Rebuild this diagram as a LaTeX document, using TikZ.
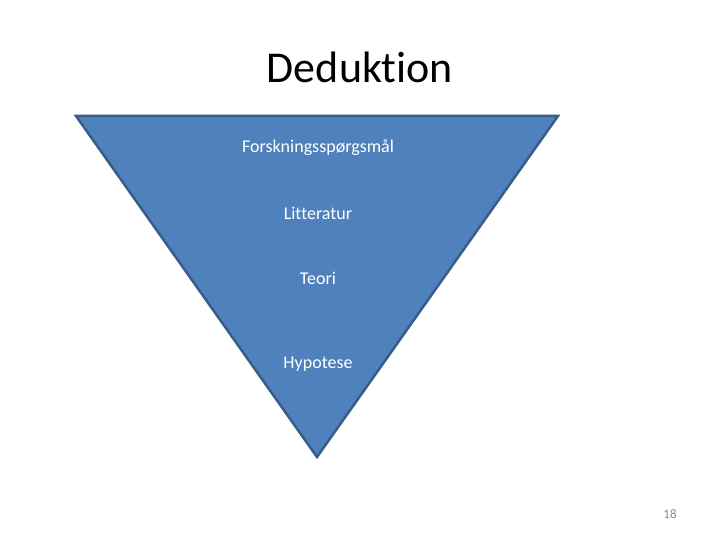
\documentclass[tikz,border=0pt]{standalone}
\usepackage{fontspec}
\setmainfont[Ligatures=NoCommon]{Carlito}
\definecolor{colFill}{RGB}{79,129,189}
\definecolor{colEdge}{RGB}{56,93,138}
\definecolor{colNum}{RGB}{137,137,137}

\begin{document}
\begin{tikzpicture}[x=1pt,y=1pt,
    every node/.style={inner sep=0pt},
    level/.style={text=white,font=\fontsize{18}{21}\selectfont}]
  % Page frame
  \useasboundingbox (0,0) rectangle (720,540);
  % Title
  \node (title) at (360,473) {\fontsize{44}{52}\selectfont Deduktion};
  % Inverted triangle
  \coordinate (tl) at (76,424);
  \coordinate (tr) at (558,424);
  \coordinate (bt) at (317,83);
  \draw[colEdge,fill=colFill,line width=2.5pt,line join=miter] (tl) -- (tr) -- (bt) -- cycle;
  % Levels
  \node[level] (q) at (318,392) {Forskningsspørgsmål};
  \node[level] (lit) at (318,327) {Litteratur};
  \node[level] (teori) at (318,262) {Teori};
  \node[level] (hyp) at (318,176) {Hypotese};
  % Slide number
  \node[colNum,font=\fontsize{13}{15}\selectfont] (num) at (670,26) {18};
\end{tikzpicture}
\end{document}
